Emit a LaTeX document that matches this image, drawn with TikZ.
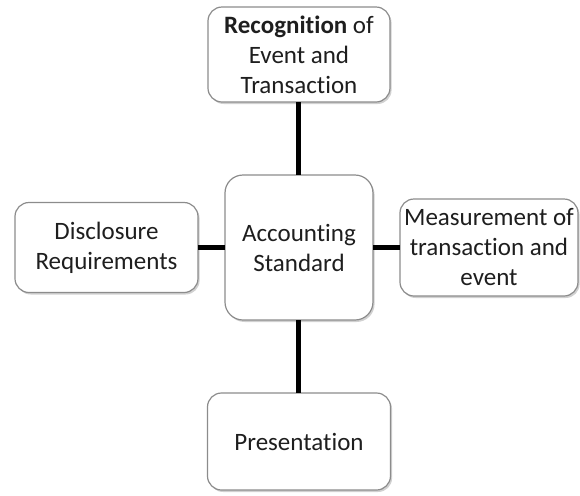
\documentclass[tikz,border=0pt]{standalone}
\usepackage{fontspec}
\setmainfont{Carlito}[Ligatures=NoCommon]
\usetikzlibrary{positioning,shadows}
\definecolor{boxline}{HTML}{8C8C8C}
\definecolor{shadowgray}{HTML}{7A7A7A}
\definecolor{textgray}{HTML}{1E1E1E}

\begin{document}
\begin{tikzpicture}[font=\fontsize{12.5}{15}\selectfont,text=textgray,
    card/.style={draw=boxline,line width=0.6pt,rounded corners=7pt,fill=white,align=center,
      inner sep=2pt,outer sep=0pt,
      drop shadow={shadow xshift=0.8pt,shadow yshift=-1pt,opacity=0.35,fill=shadowgray}},
    link/.style={line width=2.5pt,black}]
  \useasboundingbox (-149.5pt,-123.75pt) rectangle (140.5pt,123.75pt);
  \node[card,rounded corners=9pt,minimum width=74pt,minimum height=72.5pt] (std)
    {Accounting\\Standard};
  \node[card,minimum width=91pt,minimum height=47.5pt,above=36.5pt of std] (recog)
    {\textbf{Recognition} of\\Event and\\Transaction};
  \node[card,minimum width=91.5pt,minimum height=45pt,left=13.5pt of std] (disc)
    {Disclosure\\Requirements};
  \node[card,minimum width=89pt,minimum height=48.5pt,right=13.5pt of std] (meas)
    {Measurement of\\transaction and\\event};
  \node[card,minimum width=91.5pt,minimum height=48.5pt,below=36.5pt of std] (pres)
    {Presentation};
  \draw[link] (recog) -- (std);
  \draw[link] (disc) -- (std);
  \draw[link] (meas) -- (std);
  \draw[link] (pres) -- (std);
\end{tikzpicture}
\end{document}
